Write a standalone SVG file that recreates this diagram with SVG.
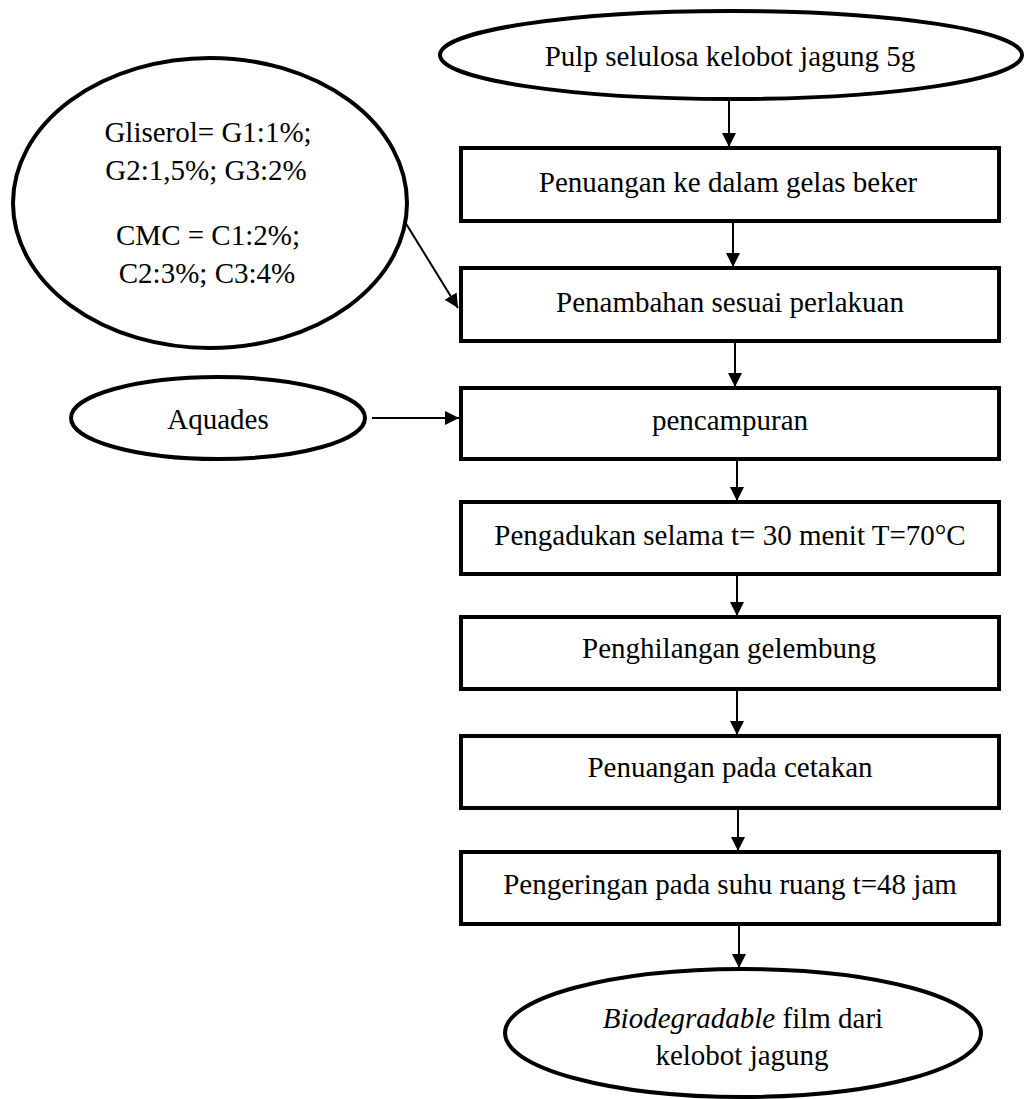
<svg xmlns="http://www.w3.org/2000/svg" width="1024" height="1099" viewBox="0 0 1024 1099">
<style>
  .box { fill: #fff; stroke: #000; stroke-width: 4; }
  .ell { fill: #fff; stroke: #000; stroke-width: 4; }
  .t { font-family: "Liberation Serif", "Times New Roman", serif; font-size: 29px; fill: #000; text-anchor: middle; }
  .c { stroke: #000; stroke-width: 2; fill: none; marker-end: url(#ah); }
</style>
<defs>
  <marker id="ah" viewBox="0 0 14 14" markerWidth="14" markerHeight="14" refX="14" refY="7" orient="auto" markerUnits="userSpaceOnUse">
    <path d="M0,0 L14,7 L0,14 z" fill="#000"/>
  </marker>
</defs>
<rect width="1024" height="1099" fill="#fff"/>

<g id="n-pulp">
  <ellipse class="ell" cx="731" cy="55" rx="291" ry="44"/>
  <text class="t" x="730" y="66">Pulp selulosa kelobot jagung 5g</text>
</g>
<g id="n-bahan">
  <ellipse class="ell" cx="210" cy="203" rx="197" ry="145" stroke-width="3.5"/>
  <text class="t" x="208" y="142">Gliserol= G1:1%;</text>
  <text class="t" x="206" y="180">G2:1,5%; G3:2%</text>
  <text class="t" x="208" y="245">CMC = C1:2%;</text>
  <text class="t" x="207" y="283">C2:3%; C3:4%</text>
</g>
<g id="n-aquades">
  <ellipse class="ell" cx="218" cy="418" rx="147" ry="41"/>
  <text class="t" x="218" y="429">Aquades</text>
</g>
<g id="n-penuangan1">
  <rect class="box" x="461" y="148" width="538" height="73"/>
  <text class="t" x="728" y="192">Penuangan ke dalam gelas beker</text>
</g>
<g id="n-penambahan">
  <rect class="box" x="461" y="268" width="538" height="73"/>
  <text class="t" x="730" y="312">Penambahan sesuai perlakuan</text>
</g>
<g id="n-pencampuran">
  <rect class="box" x="461" y="388" width="538" height="71"/>
  <text class="t" x="730" y="430">pencampuran</text>
</g>
<g id="n-pengadukan">
  <rect class="box" x="461" y="502" width="538" height="72"/>
  <text class="t" x="730" y="545">Pengadukan selama t= 30 menit T=70°C</text>
</g>
<g id="n-penghilangan">
  <rect class="box" x="461" y="617" width="538" height="72"/>
  <text class="t" x="729" y="658">Penghilangan gelembung</text>
</g>
<g id="n-penuangan2">
  <rect class="box" x="461" y="736" width="538" height="72"/>
  <text class="t" x="730" y="777">Penuangan pada cetakan</text>
</g>
<g id="n-pengeringan">
  <rect class="box" x="461" y="852" width="538" height="72"/>
  <text class="t" x="730" y="894">Pengeringan pada suhu ruang t=48 jam</text>
</g>
<g id="n-film">
  <ellipse class="ell" cx="743" cy="1033" rx="238" ry="64"/>
  <text class="t" x="743" y="1028"><tspan font-style="italic">Biodegradable</tspan> film dari</text>
  <text class="t" x="742" y="1065">kelobot jagung</text>
</g>

<g id="connectors">
  <line class="c" x1="729" y1="100" x2="729" y2="147"/>
  <line class="c" x1="733" y1="223" x2="733" y2="267"/>
  <line class="c" x1="735" y1="343" x2="735" y2="387"/>
  <line class="c" x1="737" y1="461" x2="737" y2="501"/>
  <line class="c" x1="737" y1="576" x2="737" y2="616"/>
  <line class="c" x1="737" y1="691" x2="737" y2="735"/>
  <line class="c" x1="738" y1="810" x2="738" y2="851"/>
  <line class="c" x1="739" y1="926" x2="739" y2="968"/>
  <line class="c" x1="405" y1="222" x2="458" y2="308"/>
  <line class="c" x1="372" y1="418" x2="459" y2="418"/>
</g>
</svg>
